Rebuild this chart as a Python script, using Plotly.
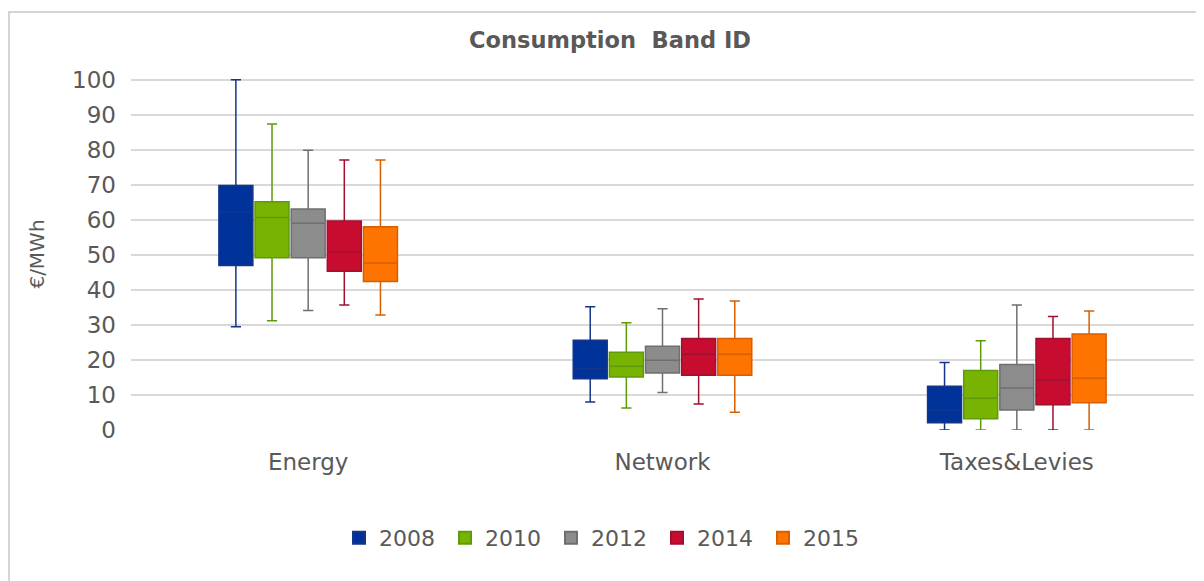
import plotly.graph_objects as go

categories = ["Energy", "Network", "Taxes&Levies"]
years = ["2008", "2010", "2012", "2014", "2015"]
colors = ["#003399", "#77b300", "#8c8c8c", "#c80c30", "#ff7300"]
line_colors = ["#16358a", "#5f9a0a", "#6f6f6f", "#9e1030", "#d85f00"]

# per year: values for [Energy, Network, Taxes&Levies]
lower = {
    "2008": [29.5, 8.0, 0.0],
    "2010": [31.2, 6.3, 0.0],
    "2012": [34.1, 10.7, 0.0],
    "2014": [35.7, 7.4, 0.0],
    "2015": [32.8, 5.1, 0.0],
}
q1 = {
    "2008": [47.0, 14.6, 2.1],
    "2010": [49.2, 15.1, 3.2],
    "2012": [49.2, 16.3, 5.7],
    "2014": [45.3, 15.6, 7.2],
    "2015": [42.4, 15.6, 7.8],
}
median = {
    "2008": [62.3, 17.5, 5.7],
    "2010": [60.7, 18.2, 9.1],
    "2012": [59.0, 19.9, 12.0],
    "2014": [50.9, 21.6, 14.2],
    "2015": [47.7, 21.6, 14.8],
}
q3 = {
    "2008": [69.8, 25.6, 12.5],
    "2010": [65.2, 22.2, 17.0],
    "2012": [63.1, 23.9, 18.7],
    "2014": [59.7, 26.1, 26.1],
    "2015": [58.0, 26.1, 27.4],
}
upper = {
    "2008": [100.0, 35.2, 19.3],
    "2010": [87.4, 30.6, 25.5],
    "2012": [79.9, 34.6, 35.7],
    "2014": [77.1, 37.4, 32.4],
    "2015": [77.1, 36.8, 34.0],
}

fig = go.Figure()
for yr, c, lc in zip(years, colors, line_colors):
    fig.add_trace(go.Box(
        x=categories,
        q1=q1[yr], median=median[yr], q3=q3[yr],
        lowerfence=lower[yr], upperfence=upper[yr],
        name=yr, fillcolor=c, line=dict(color=lc, width=1.5),
        whiskerwidth=0.3, showlegend=False, hoverinfo="skip",
    ))
    fig.add_trace(go.Scatter(
        x=[None], y=[None], mode="markers", name=yr,
        marker=dict(symbol="square", size=19, color=c, line=dict(color=lc, width=1)),
    ))

font_family = "DejaVu Sans"
# page is offset by 8px body margin; margins compensate
L, T, R, B = 123, 70, 18, 159
PW = 1204 - L - R
PH = 581 - T - B
fig.update_layout(
    width=1204, height=581,
    paper_bgcolor="white", plot_bgcolor="white",
    margin=dict(l=L, r=R, t=T, b=B),
    boxmode="group", boxgap=0.49, boxgroupgap=0.06,
    title=dict(text="<b>Consumption  Band ID</b>", x=(610 - 8) / 1204, xanchor="center",
               y=1 - (40 - 8) / 581, yanchor="middle",
               font=dict(family=font_family, size=22.5, color="#595959")),
    font=dict(family=font_family, color="#595959"),
    legend=dict(orientation="h", x=(604 - 8 - L) / PW, xanchor="center",
                y=(430 - 538) / PH, yanchor="middle",
                font=dict(size=22, color="#595959"), itemsizing="constant",
                traceorder="normal", entrywidth=61),
    xaxis=dict(showgrid=False, showline=False, zeroline=False,
               tickfont=dict(size=23, color="#595959"), ticks="", ticklen=0,
               ticklabelstandoff=16),
    yaxis=dict(range=[0, 100.5], dtick=10, showgrid=True, gridcolor="#d9d9d9", gridwidth=1.5,
               zeroline=False, showline=False, ticks="",
               tickfont=dict(size=23, color="#595959"), ticklabelstandoff=14,
               title=dict(text="€/MWh", font=dict(size=20, color="#595959"), standoff=22)),
    shapes=[dict(type="rect", xref="paper", yref="paper",
                 x0=(1 - L) / PW, x1=(1210 - L) / PW,
                 y0=(422 - 600) / PH,
                 y1=(422 - 4) / PH,
                 line=dict(color="#c8c8c8", width=1.5), layer="below")],
)

fig.write_html("out.html")
